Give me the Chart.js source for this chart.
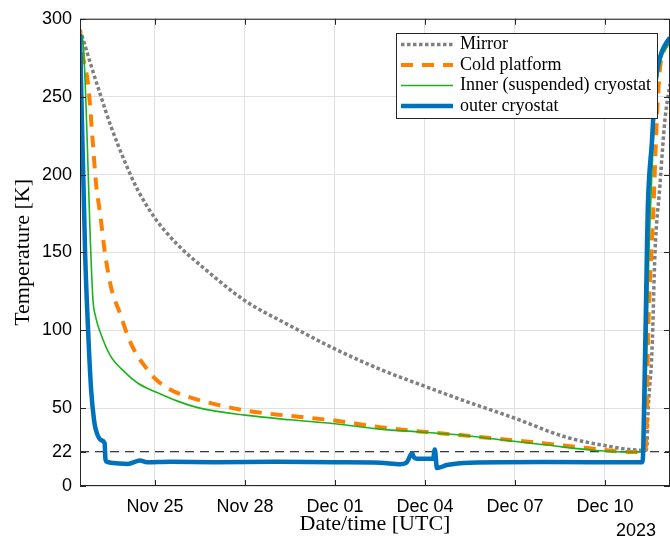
<!DOCTYPE html>
<html>
<head>
<meta charset="utf-8">
<script src="https://cdn.jsdelivr.net/npm/chart.js@4.4.0/dist/chart.umd.min.js"></script>
<style>
    body { margin: 0; background: #fff; }
    #wrap { width: 670px; height: 537px; }
</style>
</head>
<body>
<div id="wrap"><canvas id="cryo-chart" width="670" height="537"></canvas></div>
<script>
// x values are days counted from Nov 25 00:00 UTC
const xTickDays = [0, 3, 6, 9, 12, 15];
const xTickLabels = ["Nov 25", "Nov 28", "Dec 01", "Dec 04", "Dec 07", "Dec 10"];
const yTickValues = [0, 22, 50, 100, 150, 200, 250, 300];
const seriesLabels = ["Mirror", "Cold platform", "Inner (suspended) cryostat", "outer cryostat"];
const yearLabel = "2023";

const mirrorDays = [-2.5, -2.4, -2.13, -1.8, -1.47, -1.0, -0.6, 0, 0.75, 1.5, 3, 4.5, 6, 7.5, 9, 10.27, 11.93, 13.7, 15.27, 15.8, 16.17, 16.35, 16.4, 16.43, 16.57, 16.67, 16.83, 17.0, 17.17];
const mirrorTemp = [293, 287, 270, 250, 231, 208, 191, 172, 155, 142, 119, 103, 88, 75, 64, 55, 44, 31.4, 25, 23.5, 23, 22.8, 25, 44, 87, 150, 192, 235, 258];

const platformDays = [-2.5, -2.4, -2.23, -2.07, -1.97, -1.83, -1.67, -1.47, -1.17, -0.9, -0.63, -0.3, 0, 0.5, 1, 1.5, 3, 4.5, 6, 7.5, 8.83, 10.17, 11.6, 12.93, 14.4, 15.93, 16.33, 16.4, 16.43, 16.5, 16.6, 16.73, 16.83, 17.0, 17.17];
const platformTemp = [292, 276, 258, 220, 195, 175, 150, 128, 111, 96, 85, 76, 69, 62, 58, 55, 48.5, 45, 42, 37.8, 35, 32.7, 30, 27.5, 24.4, 21.8, 22, 44, 87, 130, 170, 235, 267, 281, 286];

const innerDays = [-2.5, -2.4, -2.13, -2.07, -1.97, -1.83, -1.5, -1.0, -0.57, 0.07, 0.75, 1.5, 3, 4.5, 6, 7.5, 9, 10.17, 11.6, 13.07, 14.6, 15.93, 16.3, 16.47, 16.6, 16.7, 16.85, 17.17];
const innerTemp = [291, 285, 145, 120, 108, 99, 84, 73, 66, 60, 54.5, 50, 45.5, 42.5, 40, 36.5, 34.5, 32.7, 29.5, 26.3, 23, 21.8, 22, 151, 215, 252, 272, 285];

const outerDays = [-2.5, -2.33, -2.23, -2.13, -2.03, -1.97, -1.8, -1.68, -1.65, -1.6, -1.2, -0.9, -0.6, -0.5, -0.27, 0.5, 2, 4, 6, 7.5, 8.17, 8.4, 8.57, 8.63, 8.73, 9.27, 9.33, 9.4, 9.73, 10.5, 13, 16.25, 16.28, 16.4, 16.43, 16.57, 16.67, 16.83, 17.0, 17.17];
const outerTemp = [290, 150, 100, 62, 42, 36, 29.5, 27.5, 17, 15.5, 14.5, 14.2, 16, 16.3, 15.2, 15.5, 15.3, 15.5, 15.2, 15, 14, 15.4, 21, 18.5, 17.5, 17.5, 23.5, 11.5, 13.5, 15, 15.4, 15.2, 25, 151, 179, 222, 256, 275, 283, 288];

const thresholdTemp = 22;
const xMin = -2.5;
const xMax = 17.17;

function toPoints(days, temps) {
    return days.map((d, i) => ({x: d, y: temps[i]}));
}

const gridColor = "#e0e0e0";
const axisColor = "#262626";

// box, inward tick marks, legend and year label
const framePlugin = {
    id: "framePlugin",
    afterDraw(chart) {
        const {ctx, chartArea: a, scales: {x, y}} = chart;
        ctx.save();
        ctx.strokeStyle = axisColor;
        ctx.lineWidth = 1;
        ctx.setLineDash([]);
        ctx.strokeRect(a.left + 0.5, a.top + 0.5, a.right - a.left - 1, a.bottom - a.top - 1);

        ctx.beginPath();
        xTickDays.forEach(d => {
            const px = Math.round(x.getPixelForValue(d)) + 0.5;
            ctx.moveTo(px, a.bottom);
            ctx.lineTo(px, a.bottom - 6);
            ctx.moveTo(px, a.top);
            ctx.lineTo(px, a.top + 6);
        });
        yTickValues.forEach(v => {
            const py = Math.round(y.getPixelForValue(v)) + 0.5;
            ctx.moveTo(a.left, py);
            ctx.lineTo(a.left + 6, py);
            ctx.moveTo(a.right, py);
            ctx.lineTo(a.right - 6, py);
        });
        ctx.stroke();

        // legend
        const lx = 396, ly = 33, lw = 261, lh = 85;
        ctx.fillStyle = "#fff";
        ctx.fillRect(lx, ly, lw, lh);
        ctx.strokeRect(lx + 0.5, ly + 0.5, lw, lh);
        ctx.font = "18px 'Liberation Serif', serif";
        ctx.textBaseline = "middle";
        ctx.textAlign = "left";
        let row = 0;
        chart.data.datasets.forEach(ds => {
            if (!ds.label) return;
            const ry = ly + 11.5 + row * 20.5;
            ctx.beginPath();
            ctx.strokeStyle = ds.borderColor;
            ctx.lineWidth = ds.borderWidth;
            ctx.setLineDash(ds.borderDash || []);
            ctx.moveTo(lx + 5, ry);
            ctx.lineTo(lx + 57, ry);
            ctx.stroke();
            ctx.setLineDash([]);
            ctx.fillStyle = "#000";
            ctx.fillText(ds.label, lx + 64, ry);
            row++;
        });

        ctx.font = "18px 'Liberation Sans', sans-serif";
        ctx.textAlign = "right";
        ctx.textBaseline = "alphabetic";
        ctx.fillText(yearLabel, 656, 536);
        ctx.restore();
    }
};

const lineBase = {
    pointRadius: 0,
    fill: false,
    cubicInterpolationMode: "monotone"
};

new Chart(document.getElementById("cryo-chart"), {
    type: "line",
    data: {
        datasets: [
            {
                ...lineBase,
                label: seriesLabels[0],
                data: toPoints(mirrorDays, mirrorTemp),
                borderColor: "#808080",
                borderWidth: 3.5,
                borderDash: [3.5, 2.5],
                order: 3
            },
            {
                ...lineBase,
                label: seriesLabels[1],
                data: toPoints(platformDays, platformTemp),
                borderColor: "#ff7f00",
                borderWidth: 4,
                borderDash: [12, 9],
                order: 2
            },
            {
                ...lineBase,
                label: seriesLabels[2],
                data: toPoints(innerDays, innerTemp),
                borderColor: "#1ab31a",
                borderWidth: 1.6,
                order: 1
            },
            {
                ...lineBase,
                label: seriesLabels[3],
                data: toPoints(outerDays, outerTemp),
                borderColor: "#0072bd",
                borderWidth: 4.5,
                order: 0
            },
            {
                ...lineBase,
                label: "",
                data: [{x: xMin, y: thresholdTemp}, {x: xMax, y: thresholdTemp}],
                borderColor: "#000",
                borderWidth: 1,
                borderDash: [9, 6],
                order: 4
            }
        ]
    },
    options: {
        responsive: false,
        animation: false,
        layout: {padding: {top: 18, right: 0, left: 0, bottom: 0}},
        plugins: {
            legend: {display: false},
            tooltip: {enabled: false}
        },
        scales: {
            x: {
                type: "linear",
                min: xMin,
                max: xMax,
                afterBuildTicks: scale => {
                    scale.ticks = xTickDays.map(v => ({value: v}));
                },
                afterFit: scale => {
                    scale.height = 51;
                },
                ticks: {
                    autoSkip: false,
                    maxRotation: 0,
                    padding: 10,
                    color: "#000",
                    font: {family: "'Liberation Sans', sans-serif", size: 18},
                    callback: value => xTickLabels[xTickDays.indexOf(value)]
                },
                grid: {color: gridColor, drawTicks: false},
                border: {display: false},
                title: {
                    display: true,
                    text: "Date/time [UTC]",
                    color: "#000",
                    font: {family: "'Liberation Serif', serif", size: 22},
                    padding: {top: 0, bottom: 0}
                }
            },
            y: {
                type: "linear",
                min: 0,
                max: 300,
                afterBuildTicks: scale => {
                    scale.ticks = yTickValues.map(v => ({value: v}));
                },
                afterFit: scale => {
                    scale.width = 80;
                },
                ticks: {
                    padding: 8,
                    color: "#000",
                    font: {family: "'Liberation Sans', sans-serif", size: 18}
                },
                grid: {
                    color: ctx => (ctx.tick && ctx.tick.value === thresholdTemp) ? "rgba(0,0,0,0)" : gridColor,
                    drawTicks: false
                },
                border: {display: false},
                title: {
                    display: true,
                    text: "Temperature [K]",
                    color: "#000",
                    font: {family: "'Liberation Serif', serif", size: 22},
                    padding: {top: 10, bottom: 0}
                }
            }
        }
    },
    plugins: [framePlugin]
});
</script>
</body>
</html>
